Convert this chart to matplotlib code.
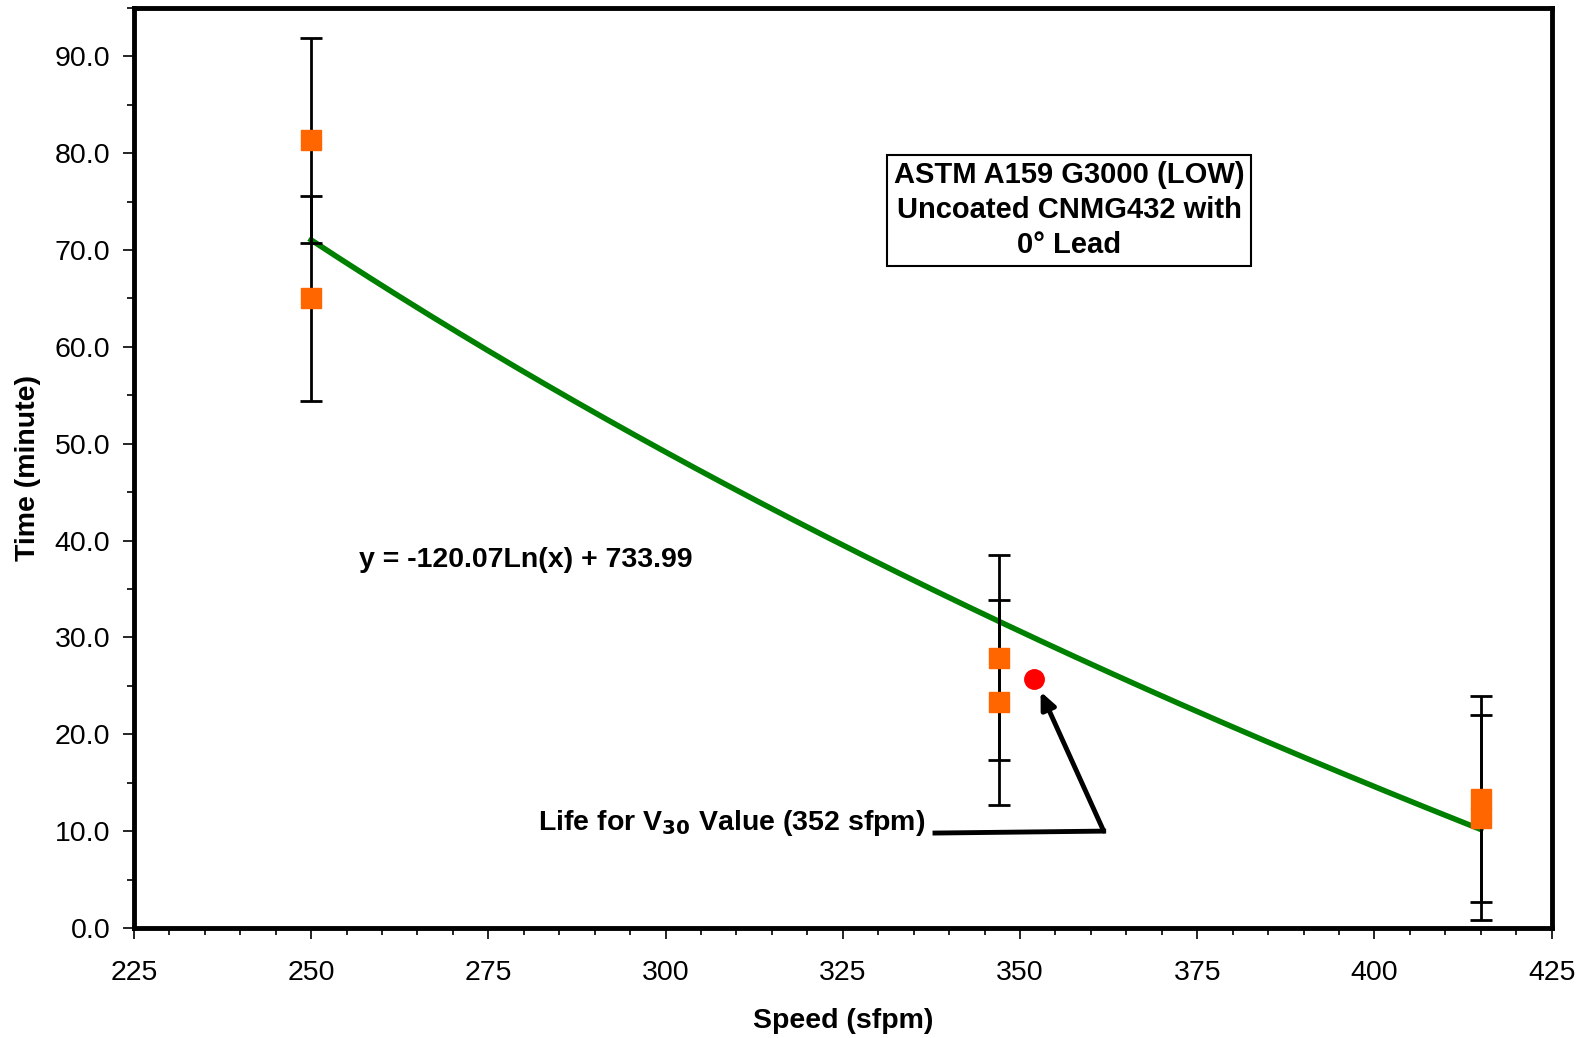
import numpy as np
import matplotlib
matplotlib.use('Agg')
import matplotlib.pyplot as plt
from matplotlib.ticker import MultipleLocator, FormatStrFormatter

plt.rcParams['font.family'] = ['Liberation Sans', 'DejaVu Sans']

# Measured tool life at each cutting speed (two tests per speed)
speed = [250, 250, 347, 347, 415, 415]
life = [81.3, 65.0, 27.9, 23.3, 13.3, 11.4]
life_err = [10.6, 10.6, 10.6, 10.6, 10.6, 10.6]

# Logarithmic fit  y = a*ln(x) + b
fit_a = -120.07
fit_b = 733.99
fit_range = [250, 415]

# V30 point
v30_speed = 352
v30_life = 25.7

fig = plt.figure(figsize=(15.85, 10.38), dpi=100)
ax = fig.add_axes([0.0845, 0.106, 0.8945, 0.8865])

# Trend line
xs = np.linspace(fit_range[0], fit_range[1], 200)
ax.plot(xs, fit_a * np.log(xs) + fit_b, color='#008000', lw=4, zorder=2)

# Error bars and data points
ax.errorbar(speed, life, yerr=life_err, fmt='none', ecolor='black',
            elinewidth=2, capsize=8, capthick=2, zorder=3)
ax.plot(speed, life, 's', color='#FF6600', ms=14, mec='#FF6600', zorder=4)

ax.plot([v30_speed], [v30_life], 'o', color='#FF0000', ms=14, zorder=5)

# Axes ranges and ticks
ax.set_xlim(225, 425)
ax.set_ylim(0, 95)
ax.xaxis.set_major_locator(MultipleLocator(25))
ax.xaxis.set_minor_locator(MultipleLocator(5))
ax.yaxis.set_major_locator(MultipleLocator(10))
ax.yaxis.set_minor_locator(MultipleLocator(5))
ax.yaxis.set_major_formatter(FormatStrFormatter('%.1f'))
ax.tick_params(which='major', direction='out', length=8, width=1.2,
               labelsize=20.5)
ax.tick_params(axis='x', which='major', pad=15)
ax.tick_params(axis='y', which='major', pad=9)
ax.tick_params(which='minor', direction='out', length=5, width=1.2)
for sp in ax.spines.values():
    sp.set_linewidth(3.5)

ax.set_xlabel('Speed (sfpm)', fontsize=20.5, fontweight='bold', labelpad=16)
ax.set_ylabel('Time (minute)', fontsize=20.5, fontweight='bold', labelpad=10)

# Material / tool description
ax.text(356.9, 74.1, 'ASTM A159 G3000 (LOW)\nUncoated CNMG432 with\n0\u00b0 Lead',
        ha='center', va='center', fontsize=21, fontweight='bold',
        linespacing=1.32,
        bbox=dict(boxstyle='square,pad=0.22', fc='white', ec='black', lw=1.5))

# Fit equation
ax.text(256.7, 38.0, 'y = %.2fLn(x) + %.2f' % (fit_a, fit_b),
        ha='left', va='center', fontsize=20.5, fontweight='bold')

# Callout for the V30 point
ax.text(336.6, 10.8, r'Life for V$_{\mathbf{30}}$ Value (352 sfpm)',
        ha='right', va='center', fontsize=20.5, fontweight='bold')
ax.plot([338.0, 361.8], [9.8, 10.0], color='black', lw=3.5, zorder=3)
ax.annotate('', xy=(352.9, 24.4), xytext=(361.8, 10.0),
            arrowprops=dict(arrowstyle='-|>,head_length=1.0,head_width=0.45',
                            color='black', lw=3.5, shrinkA=0, shrinkB=0))

fig.savefig('out.png', dpi=100)
